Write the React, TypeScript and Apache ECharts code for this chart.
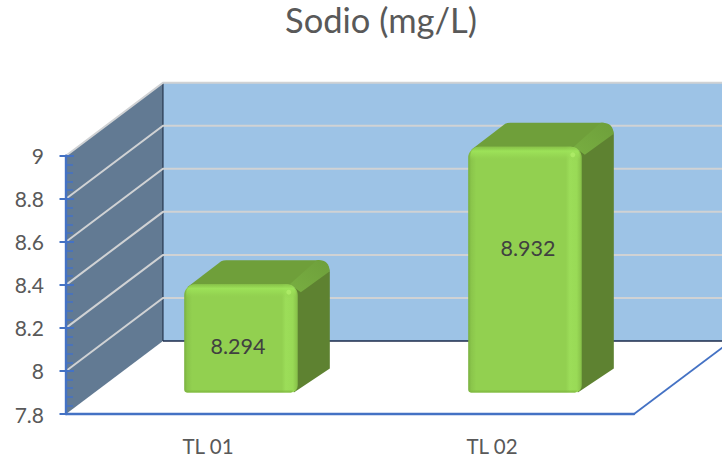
import React, { useEffect, useRef } from "react";
import * as echarts from "echarts";

const titleText = "Sodio (mg/L)";
const categories = ["TL 01", "TL 02"];
const sodio = [8.294, 8.932];
const yMin = 7.8;
const yMax = 9;
const yStep = 0.2;
const gridValues = [8, 8.2, 8.4, 8.6, 8.8, 9];

const INK = "#595959";
const AXIS = "#4472C4";
const FONT = "Lato, Carlito, 'Open Sans', sans-serif";
const DEPTH_X = 97;
const DEPTH_Y = -73;

function renderWalls(params: any, api: any) {
  const cs = params.coordSys;
  const bottom = api.coord([0, yMin])[1];
  const top = api.coord([0, yMax])[1];
  const l = cs.x;
  const bl = l + DEPTH_X;
  const br = cs.x + cs.width + DEPTH_X;
  return {
    type: "group",
    children: [
      {
        type: "polygon",
        shape: { points: [[l, top], [bl, top + DEPTH_Y], [bl, bottom + DEPTH_Y], [l, bottom]] },
        style: { fill: "#627A93" },
      },
      {
        type: "rect",
        shape: { x: bl, y: top + DEPTH_Y, width: br - bl, height: bottom - top },
        style: { fill: "#9DC3E6" },
      },
      {
        type: "line",
        shape: { x1: bl, y1: top + DEPTH_Y, x2: bl, y2: bottom + DEPTH_Y },
        style: { stroke: "#16253A", lineWidth: 1 },
      },
      {
        type: "line",
        shape: { x1: bl, y1: bottom + DEPTH_Y, x2: br, y2: bottom + DEPTH_Y },
        style: { stroke: "#1B2A4A", lineWidth: 1.5 },
      },
      {
        type: "line",
        shape: { x1: l + cs.width, y1: bottom, x2: br, y2: bottom + DEPTH_Y },
        style: { stroke: AXIS, lineWidth: 1.8 },
      },
    ],
  };
}

function renderGridLine(params: any, api: any) {
  const cs = params.coordSys;
  const y = api.coord([0, api.value(1)])[1];
  const l = cs.x;
  const bl = l + DEPTH_X;
  const br = cs.x + cs.width + DEPTH_X;
  return {
    type: "polyline",
    shape: { points: [[l, y], [bl, y + DEPTH_Y], [br, y + DEPTH_Y]] },
    style: { stroke: "#D0D2D4", lineWidth: 2, fill: "none" },
  };
}

function renderBar(params: any, api: any) {
  const idx = api.value(0);
  const val = api.value(1);
  const [cx, yTop] = api.coord([idx, val]);
  const yBase = api.coord([idx, yMin])[1];
  const w = api.size([1, 0])[0] * 0.4;
  const x0 = cx + 33 - w / 2;
  const x1 = x0 + w;
  const top = yTop - 23.5;
  const bot = yBase - 21.5;
  const dx = 32;
  const dy = -24;
  const h = bot - top;
  const frontGrad = {
    type: "linear", x: 0, y: 0, x2: 1, y2: 0,
    colorStops: [
      { offset: 0, color: "#79B03F" },
      { offset: 3 / w, color: "#8AC54B" },
      { offset: 8 / w, color: "#92D050" },
      { offset: (w - 16) / w, color: "#92D050" },
      { offset: (w - 12) / w, color: "#9CDD59" },
      { offset: (w - 5) / w, color: "#99DA56" },
      { offset: (w - 1) / w, color: "#8AC44B" },
      { offset: 1, color: "#7FB845" },
    ],
  };
  const topStrip = {
    type: "linear", x: 0, y: 0, x2: 0, y2: 1,
    colorStops: [
      { offset: 0, color: "rgba(132,190,70,0.7)" },
      { offset: 0.3, color: "rgba(158,228,90,0.9)" },
      { offset: 0.6, color: "rgba(154,222,86,0.6)" },
      { offset: 1, color: "rgba(146,208,80,0)" },
    ],
  };
  const bottomStrip = {
    type: "linear", x: 0, y: 0, x2: 0, y2: 1,
    colorStops: [
      { offset: 0, color: "rgba(125,180,62,0)" },
      { offset: 1, color: "rgba(125,180,62,0.9)" },
    ],
  };
  const edgeGrad = {
    type: "linear", x: 0, y: 1, x2: 1, y2: 0,
    colorStops: [
      { offset: 0, color: "#78AE41" },
      { offset: 1, color: "#6E9F3B" },
    ],
  };
  return {
    type: "group",
    children: [
      {
        type: "path",
        shape: {
          pathData: `M${x1 - 6} ${top + 6} L${x1 + dx - 1} ${top + dy + 7} L${x1 + dx} ${top + dy + 12} L${x1 + dx} ${bot + dy} L${x1 - 4} ${bot} Z`,
        },
        style: { fill: "#5E8231" },
      },
      {
        type: "path",
        shape: {
          pathData: `M${x0 + 3} ${top + 3} L${x0 + dx + 5} ${top + dy + 1} Q${x0 + dx + 7} ${top + dy} ${x0 + dx + 10} ${top + dy} L${x1 + dx - 10} ${top + dy} L${x1 - 4} ${top + 4} Z`,
        },
        style: { fill: "#6F9F3A" },
      },
      {
        type: "path",
        shape: {
          pathData: `M${x1 - 8} ${top} L${x1 + dx - 13} ${top + dy} Q${x1 + dx - 1} ${top + dy - 1} ${x1 + dx} ${top + dy + 11} L${x1 + 3} ${top + 8} Z`,
        },
        style: { fill: edgeGrad },
      },
      {
        type: "rect",
        shape: { x: x0, y: top, width: w, height: h, r: [11, 11, 7, 3] },
        style: { fill: frontGrad },
      },
      {
        type: "rect",
        shape: { x: x0 + 2, y: top, width: w - 4, height: 14, r: [9, 9, 0, 0] },
        style: { fill: topStrip },
      },
      {
        type: "rect",
        shape: { x: x0 + 1, y: bot - 3, width: w - 6, height: 3, r: [0, 0, 2, 2] },
        style: { fill: bottomStrip },
      },
      {
        type: "circle",
        shape: { cx: x1 - 9, cy: top + 8, r: 2.5 },
        style: { fill: "#B4F06C", opacity: 0.7 },
      },
      {
        type: "text",
        style: {
          text: val.toFixed(3),
          x: x0 + w / 2 + (h - 176) * 0.0438,
          y: bot - (h * 0.715 - 31.2),
          align: "center",
          verticalAlign: "middle",
          fontFamily: FONT,
          fontSize: 21.5,
          fill: "#404040",
        },
      },
    ],
  };
}

export default function App() {
  const ref = useRef<HTMLDivElement>(null);
  useEffect(() => {
    document.body.style.margin = "0";
    const chart = echarts.init(ref.current!, null, { renderer: "svg" });
    chart.setOption({
      animation: false,
      backgroundColor: "#FFFFFF",
      title: {
        text: titleText,
        left: 376,
        top: -3,
        textAlign: "center",
        textStyle: { fontFamily: FONT, fontSize: 34.5, fontWeight: "normal", color: INK },
      },
      grid: { left: 66, top: 155.7, width: 568, height: 258.3, containLabel: false },
      xAxis: {
        type: "category",
        data: categories,
        z: 10,
        axisLine: { show: true, lineStyle: { color: AXIS, width: 2.4 } },
        axisTick: { show: false },
        axisLabel: { margin: 21, color: INK, fontFamily: FONT, fontSize: 20.5 },
      },
      yAxis: [
        {
          type: "value",
          min: yMin,
          max: yMax,
          interval: yStep,
          z: 10,
          axisLine: { show: true, lineStyle: { color: AXIS, width: 2.4 } },
          axisTick: { show: true, inside: true, length: 8, lineStyle: { color: AXIS, width: 2 } },
          minorTick: { show: true, splitNumber: 5, length: 7, lineStyle: { color: AXIS, width: 1.5 } },
          splitLine: { show: false },
          axisLabel: {
            margin: 22,
            color: INK,
            fontFamily: FONT,
            fontSize: 21,
            formatter: (v: number) => String(Number(v.toFixed(1))),
          },
        },
        {
          type: "value",
          position: "left",
          min: yMin,
          max: yMax,
          interval: yStep,
          z: 10,
          axisLine: { show: false },
          axisTick: { show: true, length: 6.5, lineStyle: { color: AXIS, width: 2 } },
          splitLine: { show: false },
          axisLabel: { show: false },
        },
      ],
      series: [
        {
          type: "custom",
          name: "walls",
          z: 1,
          renderItem: renderWalls,
          encode: { x: 0, y: 1 },
          data: [[0, yMin]],
          silent: true,
        },
        {
          type: "custom",
          name: "gridlines",
          z: 2,
          renderItem: renderGridLine,
          encode: { x: 0, y: 1 },
          data: gridValues.map((v) => [0, v]),
          silent: true,
        },
        {
          type: "custom",
          name: "Sodio",
          z: 5,
          renderItem: renderBar,
          encode: { x: 0, y: 1 },
          data: sodio.map((v, i) => [i, v]),
        },
      ],
    });
    return () => chart.dispose();
  }, []);
  return <div ref={ref} style={{ width: 722, height: 457 }} />;
}
